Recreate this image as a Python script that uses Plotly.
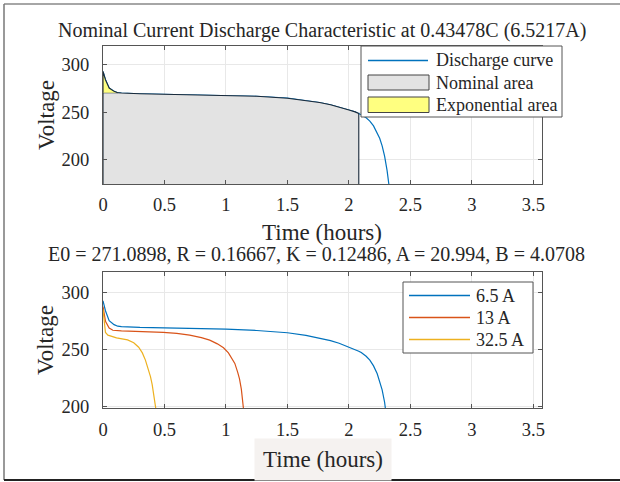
import plotly.graph_objects as go

W, H = 620, 482
SERIF = "Liberation Serif"
TXT = "#262626"

# ---- data ----
# 6.5 A (nominal) discharge curve: time (h), voltage (V)
t_65 = [0, 0.02, 0.05, 0.09, 0.12, 0.15, 0.3, 0.5, 0.75, 1.0, 1.25, 1.5, 1.65,
        1.76, 1.85, 1.92, 2.0, 2.05, 2.08, 2.1, 2.14, 2.17, 2.2, 2.23, 2.25,
        2.27, 2.29, 2.31, 2.325]
v_65 = [293, 284.3, 275.5, 272, 270.6, 270.2, 269.5, 269.1, 268.6, 268, 266.8,
        264.8, 262.55, 260.2, 257.8, 255.5, 252.3, 250.3, 248.5, 247.3, 244.0,
        240.6, 235.5, 228.5, 222.4, 214.4, 203.4, 188.4, 173.4]
# 13 A
t_13 = [0, 0.02, 0.05, 0.08, 0.15, 0.3, 0.49, 0.6, 0.705, 0.8, 0.868, 0.93,
        0.98, 1.02, 1.05, 1.072, 1.095, 1.11, 1.125, 1.135, 1.142, 1.15]
v_13 = [288, 275, 269, 267, 266.5, 266.1, 265.2, 264.2, 262.7, 260.5, 258.3,
        255, 251.5, 247, 242, 237.7, 230, 224, 215, 207, 199.5, 190]
# 32.5 A
t_325 = [0, 0.01, 0.02, 0.04, 0.11, 0.2, 0.25, 0.29, 0.32, 0.345, 0.366, 0.386,
         0.40, 0.413, 0.425, 0.432, 0.44]
v_325 = [285.5, 272, 265, 262.7, 260.3, 258.5, 256, 252, 247, 240.6, 234, 226,
         219, 211.5, 204, 199.5, 190]

# characteristic points
t_exp_end = 0.12      # end of exponential zone (h)
v_exp_end = 270.6     # voltage at end of exponential zone
t_nom_end = 2.08      # end of nominal zone (h)

title_top = "Nominal Current Discharge Characteristic at 0.43478C (6.5217A)"
title_bottom = "E0 = 271.0898, R = 0.16667, K = 0.12486, A = 20.994, B = 4.0708"
x_ticks = [0, 0.5, 1, 1.5, 2, 2.5, 3, 3.5]
y_ticks = [200, 250, 300]
legend_top = ["Discharge curve", "Nominal area", "Exponential area"]
legend_bottom = ["6.5 A", "13 A", "32.5 A"]

# ---- derived area polygons ----
nom_t = [0, 0] + [t for t in t_65 if t_exp_end <= t <= t_nom_end] + [t_nom_end]
nom_v = [0, v_exp_end] + [v for t, v in zip(t_65, v_65) if t_exp_end <= t <= t_nom_end] + [0]
exp_t = [0] + [t for t in t_65 if t <= t_exp_end]
exp_v = [v_exp_end] + [v for t, v in zip(t_65, v_65) if t <= t_exp_end]

BLUE, RED, YEL = "#0072BD", "#D95319", "#EDB120"
GRAY_FILL, YEL_FILL, EDGE = "#e3e3e3", "#ffff80", "#1a2a3a"

fig = go.Figure()
fig.add_trace(go.Scatter(x=t_65, y=v_65, mode="lines", name=legend_top[0],
                         line=dict(color=BLUE, width=1.2), xaxis="x", yaxis="y"))
fig.add_trace(go.Scatter(x=nom_t, y=nom_v, mode="lines", name=legend_top[1],
                         fill="toself", fillcolor=GRAY_FILL,
                         line=dict(color=EDGE, width=1.1), xaxis="x", yaxis="y"))
fig.add_trace(go.Scatter(x=exp_t, y=exp_v, mode="lines", name=legend_top[2],
                         fill="toself", fillcolor=YEL_FILL,
                         line=dict(color=EDGE, width=1.1), xaxis="x", yaxis="y"))

for (tt, vv, nm, col) in [(t_65, v_65, legend_bottom[0], BLUE),
                          (t_13, v_13, legend_bottom[1], RED),
                          (t_325, v_325, legend_bottom[2], YEL)]:
    fig.add_trace(go.Scatter(x=tt, y=vv, mode="lines", name=nm,
                             line=dict(color=col, width=1.2), xaxis="x2", yaxis="y2"))


def px_x(p):
    return p / W


def px_y(p):
    return 1 - p / H


axis_common = dict(showline=True, linecolor="#555555", linewidth=1, mirror="ticks",
                   ticks="inside", ticklen=4, tickcolor="#555555",
                   showgrid=True, gridcolor="#e8e8e8", gridwidth=1, zeroline=False,
                   tickfont=dict(family=SERIF, size=18.5, color=TXT))

xdom = [px_x(103), px_x(542)]
fig.update_layout(
    width=W, height=H, margin=dict(l=0, r=0, t=0, b=0, autoexpand=False),
    paper_bgcolor="white", plot_bgcolor="white", showlegend=False,
    xaxis=dict(domain=xdom, range=[0, 3.57], tickvals=x_ticks, anchor="y",
               ticklabelstandoff=4, **axis_common),
    yaxis=dict(domain=[px_y(184), px_y(46)], range=[174, 320], tickvals=y_ticks,
               anchor="x", ticklabelstandoff=9, **axis_common),
    xaxis2=dict(domain=xdom, range=[0, 3.57], tickvals=x_ticks, anchor="y2",
                ticklabelstandoff=5, **axis_common),
    yaxis2=dict(domain=[px_y(408), px_y(272)], range=[198.3, 318.5], tickvals=y_ticks,
                anchor="x2", ticklabelstandoff=9, **axis_common),
)


def text(t, x, y, size, xanchor="center", angle=0, **kw):
    fig.add_annotation(text=t, x=px_x(x), y=px_y(y), xref="paper", yref="paper",
                       xanchor=xanchor, yanchor="middle", showarrow=False,
                       textangle=angle, font=dict(family=SERIF, size=size, color=TXT), **kw)


text(title_top, 322, 30, 20)
text("Time (hours)", 322, 232, 23)
text(title_bottom, 317, 254, 20)
text("Time (hours)", 323, 459, 23, bgcolor="#f5f2f0", borderpad=8)
text("Voltage", 46, 115, 23, angle=-90)
text("Voltage", 45, 340, 23, angle=-90)


def rect(x0, y0, x1, y1, fill, line="#555555", width=1):
    fig.add_shape(type="rect", xref="paper", yref="paper", x0=px_x(x0), x1=px_x(x1),
                  y0=px_y(y0), y1=px_y(y1), fillcolor=fill,
                  line=dict(color=line, width=width), layer="above")


def hline(x0, x1, y, color, width=1.4):
    fig.add_shape(type="line", xref="paper", yref="paper", x0=px_x(x0), x1=px_x(x1),
                  y0=px_y(y), y1=px_y(y), line=dict(color=color, width=width),
                  layer="above")


# top legend
rect(361, 46, 562, 117, "white")
hline(368, 428, 60.5, BLUE)
rect(368, 75, 429, 90, GRAY_FILL, line="#444444")
rect(368, 97, 429, 112.5, YEL_FILL, line="#444444")
for lbl, yc in zip(legend_top, [60, 82.5, 104.5]):
    text(lbl, 434, yc, 18, xanchor="left")

# bottom legend
rect(403, 282, 533, 353, "white")
for lbl, yc, col in zip(legend_bottom, [295.5, 317.5, 339.5], [BLUE, RED, YEL]):
    hline(409, 470, yc, col)
    text(lbl, 474, yc, 18, xanchor="left")

# outer frame
fig.add_shape(type="line", xref="paper", yref="paper", x0=px_x(4), x1=1,
              y0=px_y(4), y1=px_y(4), line=dict(color="#888888", width=1.5))
fig.add_shape(type="line", xref="paper", yref="paper", x0=px_x(4), x1=px_x(4),
              y0=px_y(4), y1=px_y(480), line=dict(color="#777777", width=1.5))
fig.add_shape(type="line", xref="paper", yref="paper", x0=px_x(4), x1=1,
              y0=px_y(480), y1=px_y(480), line=dict(color="#222222", width=2))

fig.write_html("out.html")
